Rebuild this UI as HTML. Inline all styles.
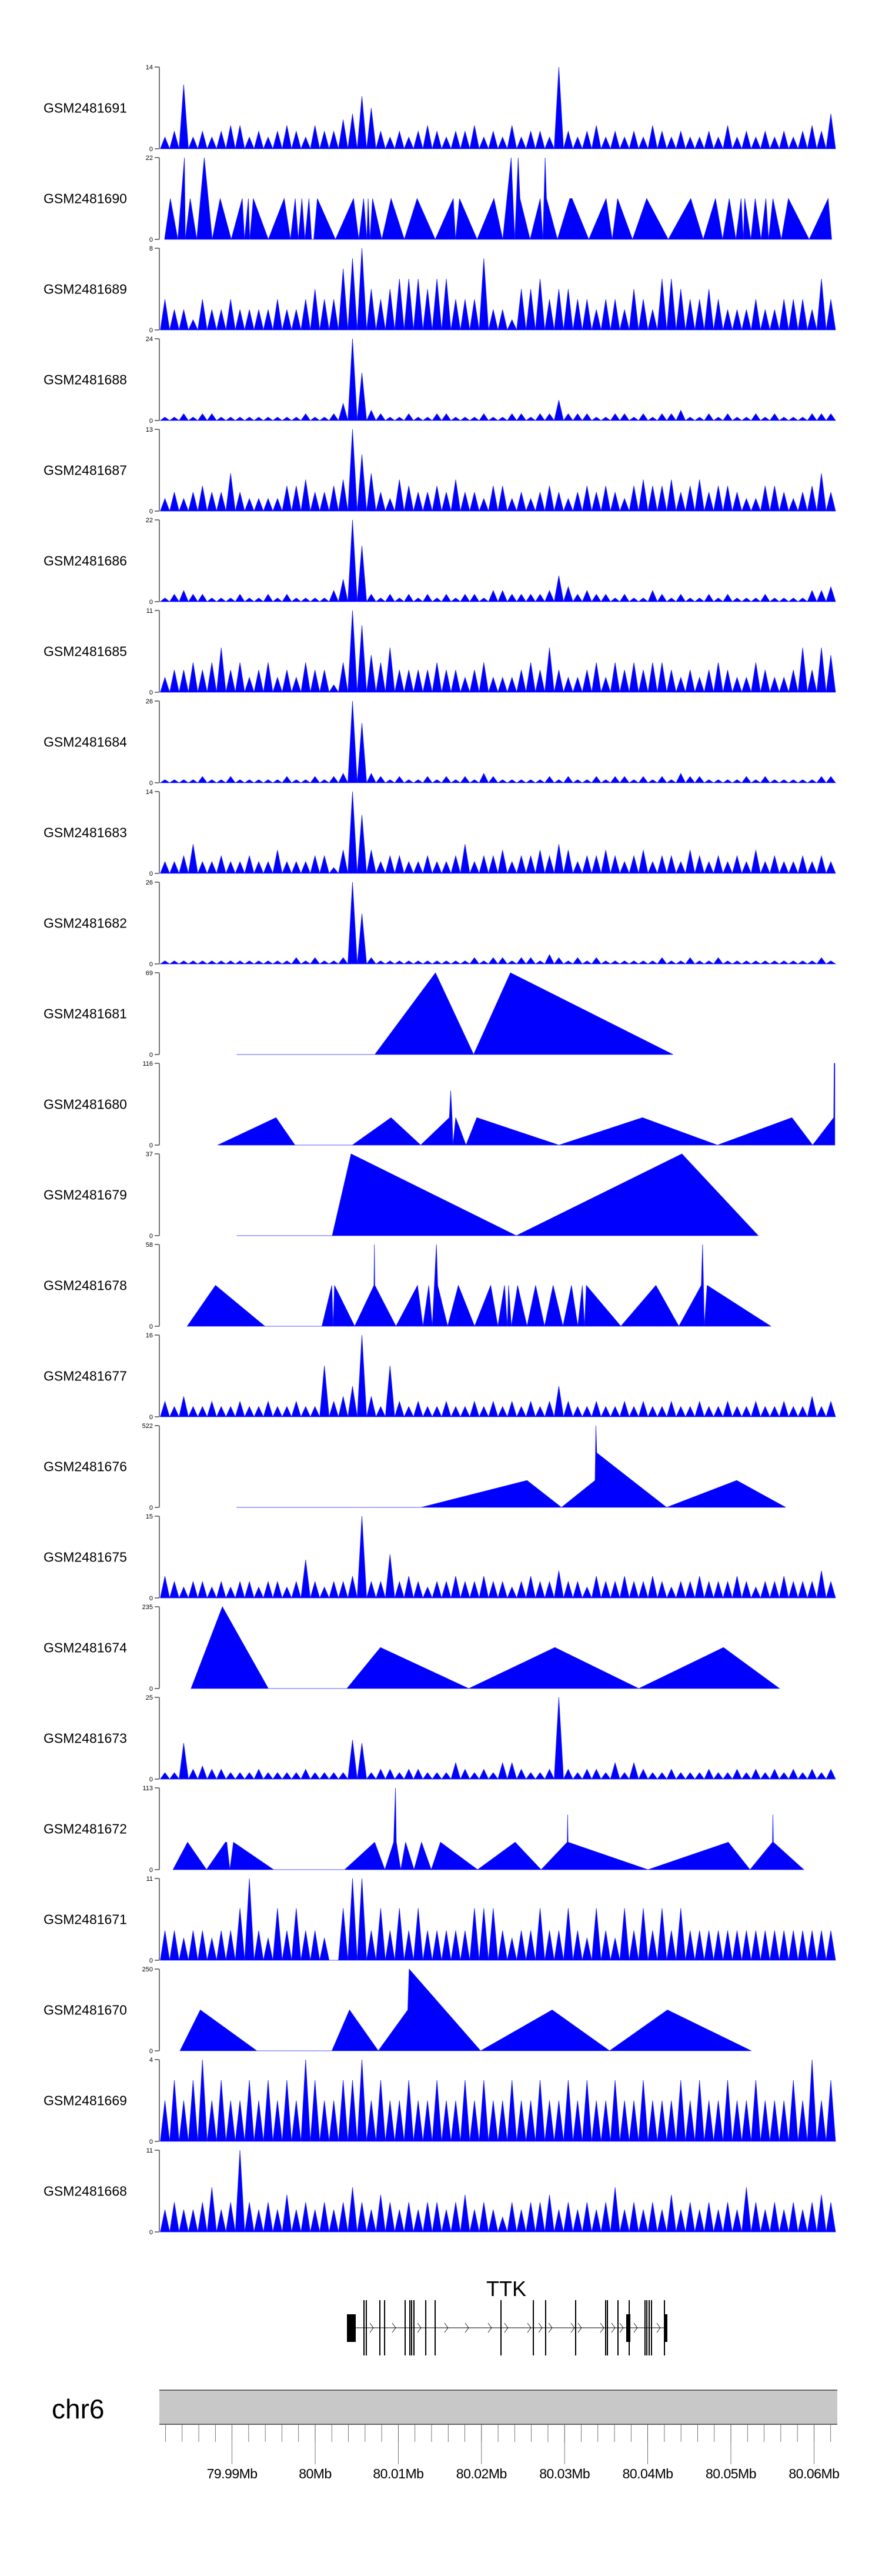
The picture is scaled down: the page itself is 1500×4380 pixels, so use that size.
<!DOCTYPE html>
<html><head><meta charset="utf-8"><title>Coverage tracks - TTK chr6</title>
<style>
html,body{margin:0;padding:0;background:#fff;}
svg{display:block;font-family:"Liberation Sans",Arial,sans-serif;}
</style></head>
<body>
<svg id="chart" xmlns="http://www.w3.org/2000/svg" width="1500" height="4380" viewBox="0 0 1500 4380">
<rect x="0" y="0" width="1500" height="4380" fill="#fff"/>
<g id="tracks"></g>
<g id="gene"></g>
<g id="ideo"></g>
</svg>
<script>
// ===== data: positions in kb past 79,980,000 on chr6 =====
const trackNames = ['GSM2481691','GSM2481690','GSM2481689','GSM2481688','GSM2481687','GSM2481686','GSM2481685','GSM2481684','GSM2481683','GSM2481682','GSM2481681','GSM2481680','GSM2481679','GSM2481678','GSM2481677','GSM2481676','GSM2481675','GSM2481674','GSM2481673','GSM2481672','GSM2481671','GSM2481670','GSM2481669','GSM2481668'];
const yMax = [14,22,8,24,13,22,11,26,14,26,69,116,37,58,16,522,15,235,25,113,11,250,4,11];
const BIN_START_KB = 1.37;
const BIN_KB = 1.128;

const d1691 = [2,3,11,2,3,2,3,4,4,2, 3,2,3,4,3,2,4,3,3,5, 6,9,7,3,2,3,2,3,4,3, 2,3,3,4,2,3,2,4,2,3, 3,2,14,3,2,3,4,2,3,2, 3,2,4,3,2,3,2,2,3,2, 4,2,3,2,3,2,3,2,3,4, 3,6];
const d1689 = [3,2,2,1,3,2,2,3,2,2, 2,2,3,2,2,3,4,3,3,6, 7,8,4,3,4,5,5,5,4,5, 5,3,3,3,7,2,2,1,4,4, 5,3,4,4,3,3,2,3,3,2, 4,3,2,5,5,4,3,3,4,3, 2,2,2,3,2,2,3,3,3,2, 5,3];
const d1688 = [1,1,2,1,2,2,1,1,1,1, 1,1,1,1,1,2,1,1,2,5, 24,14,3,2,1,1,2,1,1,2, 2,1,1,1,2,1,1,2,2,1, 2,2,6,2,2,2,1,1,2,2, 1,2,1,2,2,3,1,1,2,1, 2,1,1,2,1,2,1,1,1,2, 2,2];
const d1687 = [2,3,2,3,4,3,3,6,3,2, 2,2,2,4,4,5,3,3,4,5, 13,9,6,3,2,5,4,3,3,4, 3,5,3,3,2,4,4,2,3,2, 3,4,3,2,3,4,3,4,3,2, 4,5,4,4,5,3,4,5,3,4, 4,3,2,2,4,4,3,2,3,4, 6,3];
const d1686 = [1,2,3,2,2,1,1,1,2,1, 1,2,1,2,1,1,1,1,3,6, 22,15,2,1,2,1,2,1,2,1, 2,1,2,2,1,3,3,2,2,2, 2,3,7,4,2,3,2,2,1,2, 1,1,3,2,1,2,1,1,2,1, 2,1,1,1,2,1,1,1,1,3, 3,4];
const d1685 = [2,3,3,4,3,4,6,3,4,2, 3,4,2,3,2,4,3,3,1,4, 11,9,5,4,6,3,3,3,3,4, 3,3,2,3,4,2,2,2,3,4, 3,6,3,2,2,3,4,2,4,3, 4,3,4,4,3,2,3,2,3,4, 3,2,2,4,3,2,2,3,6,3, 6,5];
const d1684 = [1,1,1,1,2,1,1,2,1,1, 1,1,1,2,1,1,2,1,2,3, 26,19,3,2,1,2,1,1,2,1, 2,1,2,1,3,2,1,1,1,1, 1,2,1,2,1,1,2,1,2,2, 1,2,1,2,1,3,2,2,1,1, 1,1,2,1,2,1,1,1,1,1, 2,2];
const d1683 = [2,2,3,5,2,2,3,2,2,3, 2,2,4,2,2,2,3,3,1,4, 14,10,4,2,3,3,2,2,3,2, 2,3,5,2,3,3,4,2,3,3, 4,3,5,4,2,3,3,4,3,2, 3,4,2,3,3,2,4,3,2,3, 2,3,2,4,2,3,2,2,3,2, 3,2];
const d1682 = [1,1,1,1,1,1,1,1,1,1, 1,1,1,1,2,1,2,1,1,2, 26,16,2,1,1,1,1,1,1,1, 1,1,1,2,1,2,2,1,2,2, 1,3,2,1,2,1,2,1,1,1, 1,1,1,2,1,1,2,1,1,2, 1,1,1,1,1,1,1,1,1,1, 2,1];
const d1677 = [3,2,4,2,2,3,2,2,3,2, 2,3,2,2,3,2,2,10,3,4, 6,16,4,2,10,3,2,3,2,2, 3,2,2,3,2,3,2,3,2,3, 2,3,6,3,2,2,3,2,2,3, 2,3,2,2,3,2,2,3,2,2, 3,2,2,3,2,2,3,2,2,4, 2,3];
const d1675 = [4,3,2,3,3,2,3,2,3,3, 2,3,3,2,3,7,3,2,3,3, 4,15,3,3,8,3,4,3,2,3, 3,4,3,3,4,3,3,2,3,4, 3,3,5,3,3,2,4,3,3,4, 3,3,4,3,2,3,3,4,3,3, 3,4,3,2,3,3,4,3,3,3, 5,3];
const d1673 = [2,2,11,3,4,3,3,2,2,2, 3,2,2,2,2,3,2,2,2,2, 12,11,2,3,3,2,3,3,2,2, 2,5,3,2,3,2,5,5,3,2, 2,3,25,3,2,3,3,2,5,2, 5,3,2,2,3,2,2,2,3,2, 2,3,2,3,2,3,2,3,2,3, 2,3];
const d1671 = [4,4,3,4,4,3,4,4,7,11, 4,3,7,4,7,4,4,3,0,7, 11,11,4,7,4,7,4,7,4,4, 4,4,4,7,7,7,4,3,4,4, 7,4,4,7,4,3,7,4,3,7, 4,7,4,7,4,7,4,4,4,4, 4,4,4,4,4,4,4,4,4,4, 4,4];
const d1669 = [2,3,2,3,4,2,3,2,2,3, 2,3,2,3,2,4,3,2,2,3, 3,4,2,3,2,2,3,2,2,3, 2,2,3,2,3,2,2,3,2,2, 3,2,2,3,2,3,2,2,3,2, 2,3,2,2,2,3,2,3,2,2, 3,2,2,3,2,2,2,3,2,4, 2,3];
const d1668 = [3,4,3,3,4,6,3,4,11,4, 3,4,3,5,3,4,3,4,3,4, 6,4,3,5,4,3,4,3,4,4, 3,4,5,3,4,3,2,4,3,4, 4,5,3,4,3,4,3,4,6,3, 4,3,4,3,5,3,4,3,4,3, 4,3,6,4,3,4,3,4,3,4, 5,4];

const pos1690 = [1.89,2.58,3.48,4.28,4.38,4.97,5.76,6.66,7.62,8.58,9.9,11.23,11.5,11.97,12.13,12.56,14.36,16.27,17.02,17.6,17.97,18.4,18.77,19.25,19.57,19.83,20.26,22.44,24.61,25.25,25.83,26.21,26.37,26.58,26.9,28.01,29.13,30.72,32.26,34.44,36.61,36.88,37.36,39.48,41.5,42.56,43.57,44.0,44.42,44.63,45.85,47.07,47.39,47.66,47.82,49.14,50.63,50.9,52.91,54.99,55.73,56.37,58.17,59.87,62.47,65.18,66.67,68.15,69.0,69.8,70.6,71.23,71.5,71.66,72.4,72.93,73.62,74.21,74.53,75.06,76.07,76.92,79.41,81.7,82.12];
const val1690 = [0,11,0,22,0,11,0,22,0,11,0,11,0,11,0,11,0,11,0,11,0,11,0,11,0,0,11,0,11,0,11,0,11,0,11,0,11,0,11,0,11,0,11,0,11,0,22,0,22,11,0,11,0,22,11,0,11,11,0,11,0,11,0,11,0,11,0,11,0,11,0,11,0,11,0,11,0,11,0,11,0,11,0,11,0];
const pos1681 = [10.55,27.18,34.47,39.06,43.49,63.04];
const val1681 = [0,0,69,0,69,0];
const pos1680 = [8.28,15.3,17.57,24.48,29.12,32.69,36.14,36.3,36.47,36.57,36.9,38.14,39.44,49.32,59.36,68.38,77.34,79.83,82.37,82.42,82.5];
const val1680 = [0,39,0,0,39,0,39,77,39,0,39,0,39,0,39,0,39,0,39,116,116];
const pos1679 = [10.55,22.05,24.32,44.19,64.11,73.29];
const val1679 = [0,0,37,0,37,0];
const pos1678 = [4.61,8.01,13.95,20.81,22.0,22.16,22.33,24.75,27.07,27.12,27.18,29.72,32.31,32.96,33.66,34.09,34.58,34.74,35.93,37.22,39.17,41.11,41.97,42.78,43.11,43.27,43.59,44.35,45.48,46.51,47.59,48.62,49.8,50.83,51.59,52.13,52.4,52.61,56.77,60.98,63.74,66.44,66.6,66.81,67.14,74.81];
const val1678 = [0,29,0,0,29,0,29,0,29,58,29,0,29,0,29,0,58,29,0,29,0,29,0,29,0,29,0,29,0,29,0,29,0,29,0,29,0,29,0,29,0,29,58,0,29,0];
const pos1676 = [10.54,32.74,45.48,49.62,53.66,53.76,53.87,62.26,70.7,76.6];
const val1676 = [0,0,172,0,172,522,348,0,172,0];
const pos1674 = [5.07,8.84,14.36,23.82,27.85,38.47,48.83,58.92,69.11,75.85];
const val1674 = [0,235,0,0,118,0,118,0,118,0];
const pos1672 = [2.9,4.65,6.93,9.21,9.37,9.74,10.17,15.0,23.55,27.16,28.38,29.44,29.66,29.76,30.29,30.88,31.89,32.79,33.96,35.07,39.53,44.05,47.18,50.31,50.37,50.42,60.03,69.69,72.3,75.0,75.06,75.11,78.77];
const val1672 = [0,38,0,38,38,0,38,0,0,38,0,38,113,38,0,38,0,38,0,38,0,38,0,38,76,38,0,38,0,38,76,38,0];
const pos1670 = [3.74,6.19,12.98,22.01,24.13,27.59,31.14,31.3,39.9,48.51,55.41,62.37,72.46];
const val1670 = [0,125,0,0,125,0,125,250,0,125,0,125,0];

const trackData = [d1691,[pos1690,val1690],d1689,d1688,d1687,d1686,d1685,d1684,d1683,d1682,[pos1681,val1681],[pos1680,val1680],[pos1679,val1679],[pos1678,val1678],d1677,[pos1676,val1676],d1675,[pos1674,val1674],d1673,[pos1672,val1672],d1671,[pos1670,val1670],d1669,d1668];

// gene model TTK (kb past 79,980,000)
const geneStartKb = 24.03, geneEndKb = 62.22;
const exonKb = [25.87,26.15,27.78,28.35,30.82,31.39,31.6,31.88,33.3,34.43,42.35,46.24,47.72,51.33,54.94,55.15,56.42,57.77,59.67,59.89,60.17,60.45,62.01];
const utrStartKb = [23.82,57.41,62.01];
const utrEndKb = [24.88,57.91,62.36];
const chevronKb = [26.79,29.48,32.52,35.77,38.25,41.0,42.98,45.74,47.09,48.29,50.98,51.82,54.51,55.86,56.85,58.54,61.3];

// axis ticks (kb past 79,980,000)
const majorTickKb = [10,20,30,40,50,60,70,80];
const majorTickLabels = ['79.99Mb','80Mb','80.01Mb','80.02Mb','80.03Mb','80.04Mb','80.05Mb','80.06Mb'];
const minorTickStartKb = 2, minorTickEndKb = 82, minorTickStepKb = 2;

// ===== scales / layout =====
const NS = 'http://www.w3.org/2000/svg';
const X_PX_AT_20 = 536, PX_PER_KB = 14.14;
function xs(kb){ return X_PX_AT_20 + (kb - 20) * PX_PER_KB; }
const TRACK_TOP0 = 114, TRACK_STEP = 154, TRACK_H = 139, AXIS_X = 271;
function mk(tag, attrs, parent){
  const e = document.createElementNS(NS, tag);
  for (const k in attrs) e.setAttribute(k, attrs[k]);
  parent.appendChild(e); return e;
}
const gT = document.getElementById('tracks');
trackNames.forEach((name, i) => {
  const top = TRACK_TOP0 + TRACK_STEP * i, zero = top + TRACK_H;
  const ys = v => zero - (v / yMax[i]) * TRACK_H;
  const g = mk('g', {}, gT);
  
  
  const lab = mk('text', {x: 74, y: (top + zero) / 2 + 8, 'font-size': 23, fill: '#000'}, g);
  lab.textContent = name;
  
  
  const ax = mk('path', {d: `M${AXIS_X} ${top}V${zero}M${AXIS_X-8} ${top}H${AXIS_X}M${AXIS_X-8} ${zero}H${AXIS_X}`, stroke: '#777', 'stroke-width': 2, fill: 'none'}, g);
  
  
  const tMax = mk('text', {x: AXIS_X - 11, y: top + 4, 'font-size': 11, 'text-anchor': 'end', fill: '#000'}, g);
  tMax.textContent = yMax[i];
  
  
  const tMin = mk('text', {x: AXIS_X - 11, y: zero + 4, 'font-size': 11, 'text-anchor': 'end', fill: '#000'}, g);
  tMin.textContent = '0';
  
  
  const d = trackData[i];
  let pts = [];
  if (Array.isArray(d[0])) {
    const p = d[0], v = d[1];
    pts.push([xs(p[0]), zero]);
    for (let k = 0; k < p.length; k++) pts.push([xs(p[k]), ys(v[k])]);
    pts.push([xs(p[p.length-1]), zero]);
  } else {
    for (let k = 0; k < d.length; k++) {
      const s = BIN_START_KB + k * BIN_KB;
      pts.push([xs(s), zero]);
      pts.push([xs(s + BIN_KB/2), ys(d[k])]);
    }
    pts.push([xs(BIN_START_KB + d.length * BIN_KB), zero]);
  }
  const poly = mk('polygon', {points: pts.map(q => q[0].toFixed(1) + ',' + q[1].toFixed(1)).join(' '), fill: '#0000ff', stroke: '#2020ff', 'stroke-width': 0.8, 'stroke-linejoin': 'miter'}, g);
  
  
});

// gene track
const gG = document.getElementById('gene');
const ttk = mk('text', {x: 861, y: 3904, 'font-size': 36, 'text-anchor': 'middle', fill: '#000'}, gG);
ttk.textContent = 'TTK';


const gl = mk('line', {x1: xs(geneStartKb), x2: xs(geneEndKb), y1: 3958, y2: 3958, stroke: '#000', 'stroke-width': 1}, gG);


chevronKb.forEach(k => {
  const c = mk('path', {d: `M${xs(k)-3} 3950L${xs(k)+3} 3958L${xs(k)-3} 3966`, stroke: '#000', 'stroke-width': 0.8, fill: 'none'}, gG);
  
  
});
exonKb.forEach(k => {
  const e = mk('rect', {x: xs(k) - 1, y: 3911, width: 2, height: 94, fill: '#000'}, gG);
  
  
});
utrStartKb.forEach((k, j) => {
  const u = mk('rect', {x: xs(k), y: 3935, width: Math.max(3, xs(utrEndKb[j]) - xs(k)), height: 47, fill: '#000'}, gG);
  
  
});

// ideogram axis
const gI = document.getElementById('ideo');
const chr = mk('text', {x: 88, y: 4112, 'font-size': 46, fill: '#000'}, gI);
chr.textContent = 'chr6';


const band = mk('rect', {x: 271, y: 4064, width: 1153, height: 58, fill: '#c8c8c8'}, gI);


const bEdges = mk('path', {d: 'M271 4064H1424M271 4122H1424', stroke: '#666', 'stroke-width': 2}, gI);


for (let k = minorTickStartKb; k <= minorTickEndKb; k += minorTickStepKb) {
  const t = mk('line', {x1: xs(k), x2: xs(k), y1: 4123, y2: 4152, stroke: '#555', 'stroke-width': 0.8}, gI);
  
  
}
majorTickKb.forEach((k, j) => {
  const t = mk('line', {x1: xs(k), x2: xs(k), y1: 4123, y2: 4190, stroke: '#555', 'stroke-width': 0.8}, gI);
  
  
  const l = mk('text', {x: xs(k), y: 4214, 'font-size': 23, 'text-anchor': 'middle', fill: '#000', 'letter-spacing': '-0.5'}, gI);
  l.textContent = majorTickLabels[j];
  
  
});
</script>
</body></html>
